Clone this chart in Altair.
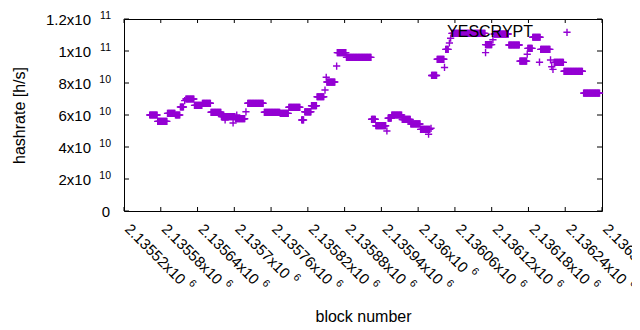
import altair as alt
import pandas as pd

# ---- data (constant runs of per-block estimates) ----
run_start = [2135562, 2135575, 2135591, 2135604, 2135612, 2135621, 2135635, 2135648,
             2135662, 2135679, 2135702, 2135722, 2135749, 2135775, 2135789, 2135810,
             2135815, 2135826, 2135835, 2135851, 2135868, 2135883, 2135924, 2135931,
             2135951, 2135957, 2135974, 2135988, 2136004, 2136022, 2136031, 2136045,
             2136055, 2136110, 2136124, 2136148, 2136166, 2136179, 2136187, 2136200,
             2136222, 2136238, 2136270]
run_end = [2135574, 2135590, 2135603, 2135611, 2135617, 2135634, 2135647, 2135661,
           2135678, 2135701, 2135717, 2135747, 2135774, 2135788, 2135807, 2135813,
           2135825, 2135834, 2135846, 2135864, 2135882, 2135923, 2135930, 2135947,
           2135956, 2135973, 2135987, 2136003, 2136019, 2136030, 2136042, 2136049,
           2136109, 2136120, 2136147, 2136165, 2136177, 2136186, 2136199, 2136215,
           2136237, 2136268, 2136296]
run_value = [6.0e10, 5.6e10, 6.1e10, 6.0e10, 6.5e10, 7.0e10, 6.6e10, 6.73e10,
             6.17e10, 5.9e10, 5.77e10, 6.73e10, 6.17e10, 6.1e10, 6.48e10, 5.69e10,
             6.2e10, 6.58e10, 7.14e10, 8.06e10, 9.9e10, 9.6e10, 5.73e10, 5.33e10,
             5.8e10, 6.0e10, 5.72e10, 5.44e10, 5.1e10, 8.47e10, 9.48e10, 1.01e11,
             1.11e11, 1.04e11, 1.106e11, 1.0375e11, 9.37e10, 1.0166e11, 1.086e11, 1.01e11,
             9.29e10, 8.73e10, 7.37e10]

pt_block = [2135619, 2135685, 2135698, 2135704, 2135719, 2135848, 2135850, 2135867,
            2135949, 2136017, 2136021, 2136043, 2136051, 2136053, 2136110, 2136122,
            2136178, 2136198, 2136216, 2136218, 2136220]
pt_value = [6.9e10, 5.69e10, 5.5e10, 6.0e10, 6.2e10, 7.56e10, 8.36e10, 9.06e10,
            5.0e10, 4.8e10, 5.17e10, 8.97e10, 1.05e11, 1.08e11, 9.9e10, 1.07e11,
            9.8e10, 9.3e10, 9.44e10, 9.02e10, 8.85e10]

x_ticks = [2135520, 2135580, 2135640, 2135700, 2135760, 2135820, 2135880,
           2135940, 2136000, 2136060, 2136120, 2136180, 2136240, 2136300]
x_label_base = ["2.13552x10", "2.13558x10", "2.13564x10", "2.1357x10",
                "2.13576x10", "2.13582x10", "2.13588x10", "2.13594x10",
                "2.136x10", "2.13606x10", "2.13612x10", "2.13618x10",
                "2.13624x10", "2.1363x10"]
x_label_exp = ["6"] * 14
y_ticks = [0, 2e10, 4e10, 6e10, 8e10, 1e11, 1.2e11]
y_label_base = ["0", "2x10", "4x10", "6x10", "8x10", "1x10", "1.2x10"]
y_label_exp = ["", "10", "10", "10", "10", "11", "11"]

series_name = "YESCRYPT"

rows = []
for s, e, v in zip(run_start, run_end, run_value):
    for b in range(s, e + 1):
        rows.append((b, v))
for b, v in zip(pt_block, pt_value):
    rows.append((b, v))
df = pd.DataFrame(rows, columns=["block", "hashrate"])

FONT = "Liberation Sans"
TICK_FS = 15
EXP_FS = 10.5
TITLE_FS = 16
PURPLE = "#9400d3"
PLUS = "M-1,0L1,0M0,-1L0,1"
W, H = 478, 192

# approximate Liberation Sans advance widths (em) to place the exponents
CHAR_W = {".": 0.278, "x": 0.5}


def text_width(s, fs):
    return sum(CHAR_W.get(c, 0.556) for c in s) * fs


xscale = alt.Scale(domain=[2135520, 2136300], nice=False, zero=False)
yscale = alt.Scale(domain=[0, 1.2e11], nice=False, zero=True)

xaxis = alt.Axis(values=x_ticks, labels=False, domain=False, ticks=False, grid=False,
                 title="block number", titleX=W / 2, titleY=105.5,
                 titleAlign="center", titleBaseline="middle", titleAngle=0)
yaxis = alt.Axis(values=y_ticks, labels=False, domain=False, ticks=False, grid=False,
                 title="hashrate [h/s]", titleX=-105, titleY=H / 2,
                 titleAlign="center", titleBaseline="middle", titleAngle=-90)

tx = alt.X("block:Q", scale=xscale, axis=xaxis)
ty = alt.Y("hashrate:Q", scale=yscale, axis=yaxis)

main = alt.Chart(df).mark_point(
    shape=PLUS, filled=False, size=52, strokeWidth=1.4, color=PURPLE, opacity=1
).encode(x=tx, y=ty)

ydf = pd.DataFrame({"hashrate": y_ticks, "base": y_label_base, "exp": y_label_exp})
xdf = pd.DataFrame({"block": x_ticks, "base": x_label_base, "exp": x_label_exp})

rule = dict(color="black", strokeWidth=1)
left_t = alt.Chart(ydf).mark_rule(**rule).encode(y=ty, x=alt.value(0), x2=alt.value(5))
right_t = alt.Chart(ydf).mark_rule(**rule).encode(y=ty, x=alt.value(W), x2=alt.value(W - 5))
bot_t = alt.Chart(xdf).mark_rule(**rule).encode(x=tx, y=alt.value(H), y2=alt.value(H - 4))
top_t = alt.Chart(xdf).mark_rule(**rule).encode(x=tx, y=alt.value(0), y2=alt.value(4))

txt = dict(font=FONT, color="#000000")

# y tick labels
y_base = alt.Chart(ydf).transform_filter("datum.exp != ''").mark_text(
    align="right", baseline="middle", fontSize=TICK_FS, dy=1, **txt
).encode(y=ty, x=alt.value(-33), text="base:N")
y_zero = alt.Chart(ydf).transform_filter("datum.exp == ''").mark_text(
    align="right", baseline="middle", fontSize=TICK_FS, dy=1, **txt
).encode(y=ty, x=alt.value(-14), text="base:N")
y_exp = alt.Chart(ydf).transform_filter("datum.exp != ''").mark_text(
    align="right", baseline="alphabetic", fontSize=EXP_FS, dy=0, **txt
).encode(y=ty, x=alt.value(-13), text="exp:N")

# x tick labels (rotated 45 degrees)
x_base = alt.Chart(xdf).mark_text(
    align="left", baseline="alphabetic", angle=45, fontSize=TICK_FS, **txt
).encode(x=tx, y=alt.value(211), text="base:N")

x_exp_layers = []
widths = sorted(set(round(text_width(s, TICK_FS), 2) for s in x_label_base))
for wv in widths:
    members = [b for b, s in zip(x_ticks, x_label_base)
               if round(text_width(s, TICK_FS), 2) == wv]
    x_exp_layers.append(
        alt.Chart(xdf).transform_filter(
            alt.FieldOneOfPredicate(field="block", oneOf=members)
        ).mark_text(
            align="left", baseline="alphabetic", angle=45, fontSize=EXP_FS,
            dx=wv + 5, dy=-7.5, **txt
        ).encode(x=tx, y=alt.value(211), text="exp:N")
    )

leg_text = alt.Chart(pd.DataFrame({"t": [series_name]})).mark_text(
    align="right", baseline="middle", fontSize=TITLE_FS, **txt
).encode(text="t:N", x=alt.value(409), y=alt.value(13))
leg_pt = alt.Chart(pd.DataFrame({"t": [series_name]})).mark_point(
    shape=PLUS, filled=False, size=52, strokeWidth=1.4, color=PURPLE, opacity=1
).encode(x=alt.value(443), y=alt.value(13.3))

chart = alt.layer(
    main, left_t, right_t, bot_t, top_t, y_base, y_zero, y_exp, x_base,
    *x_exp_layers, leg_text, leg_pt
).properties(
    width=W, height=H,
    autosize=alt.AutoSizeParams(type="none"),
    padding={"left": 116, "top": 11, "right": 30, "bottom": 111},
    background="white",
).configure_view(stroke="black", strokeWidth=1).configure_axis(
    titleFont=FONT, titleFontSize=TITLE_FS, titleColor="#000000", titleFontWeight="normal",
)

chart.save("out.html", embed_options={"renderer": "svg", "actions": False})
